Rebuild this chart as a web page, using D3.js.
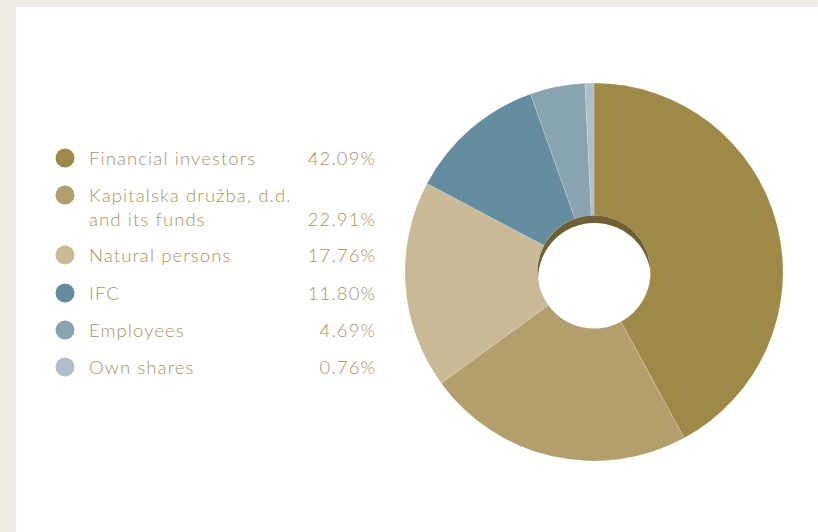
<!DOCTYPE html>
<html>
<head>
<meta charset="utf-8">
<script src="https://cdn.jsdelivr.net/npm/d3@7/dist/d3.min.js"></script>
<style>
  html, body { margin: 0; padding: 0; background: #f0ece5; }
  svg { display: block; }
  text { font-family: "Lato", "Open Sans", sans-serif; font-weight: 300; letter-spacing: 1.1px; }
</style>
</head>
<body>
<svg id="chart" width="818" height="532"></svg>
<script>
// Ownership structure (share of total, %)
const categories = [
  "Financial investors",
  "Kapitalska družba, d.d.\nand its funds",
  "Natural persons",
  "IFC",
  "Employees",
  "Own shares"
];
const shares = [42.09, 22.91, 17.76, 11.80, 4.69, 0.76];
const shareLabels = ["42.09%", "22.91%", "17.76%", "11.80%", "4.69%", "0.76%"];
const colors = ["#9e8946", "#b39f6c", "#c9b994", "#648e9f", "#89a4b1", "#adbfcb"];

const W = 818, H = 532;
const svg = d3.select("#chart");

// white card
svg.append("rect").attr("x", 16).attr("y", 7).attr("width", W - 16).attr("height", H - 7).attr("fill", "#ffffff");

// ---- donut ----
const cx = 594, cy = 272, outerR = 189, innerR = 56.5;
const g = svg.append("g").attr("transform", `translate(${cx},${cy})`);

const pie = d3.pie().sort(null).value(d => d.value);
const arc = d3.arc().innerRadius(innerR).outerRadius(outerR);
const data = shares.map((v, i) => ({ value: v, color: colors[i] }));

g.selectAll("path.slice")
  .data(pie(data))
  .join("path")
  .attr("class", "slice")
  .attr("d", arc)
  .attr("fill", d => d.data.color)
  .attr("stroke", "rgba(255,255,255,0.35)")
  .attr("stroke-width", 0.5);

// hole with an inner shadow on its upper rim
const defs = svg.append("defs");
defs.append("clipPath").attr("id", "holeClip")
  .append("circle").attr("cx", 0).attr("cy", 0).attr("r", innerR);
g.append("circle").attr("r", innerR).attr("fill", "#6f6033");
g.append("circle")
  .attr("cx", 0.5).attr("cy", 7.5).attr("r", innerR)
  .attr("fill", "#ffffff")
  .attr("clip-path", "url(#holeClip)");

// ---- legend ----
const legendX = 65, textX = 89, valueX = 376;
const rowY = [158, 195, 255, 293, 330, 367];   // marker centres
const lineGap = 23.5;

const lg = svg.append("g");
const rows = lg.selectAll("g.row")
  .data(categories.map((c, i) => ({ label: c, value: shareLabels[i], color: colors[i], y: rowY[i] })))
  .join("g").attr("class", "row");

rows.append("circle")
  .attr("cx", legendX).attr("cy", d => d.y).attr("r", 9.5)
  .attr("fill", d => d.color);

rows.append("text")
  .attr("x", textX).attr("y", d => d.y + 7)
  .attr("fill", "#a8955f").attr("font-size", 18.5)
  .each(function (d) {
    const lines = d.label.split("\n");
    d3.select(this).selectAll("tspan").data(lines).join("tspan")
      .attr("x", textX).attr("dy", (l, i) => i === 0 ? 0 : lineGap)
      .text(l => l);
  });

rows.append("text")
  .attr("x", valueX)
  .attr("y", d => d.y + 7 + (d.label.split("\n").length - 1) * lineGap)
  .attr("text-anchor", "end")
  .attr("fill", "#a8955f").attr("font-size", 18.5)
  .text(d => d.value);
</script>
</body>
</html>
